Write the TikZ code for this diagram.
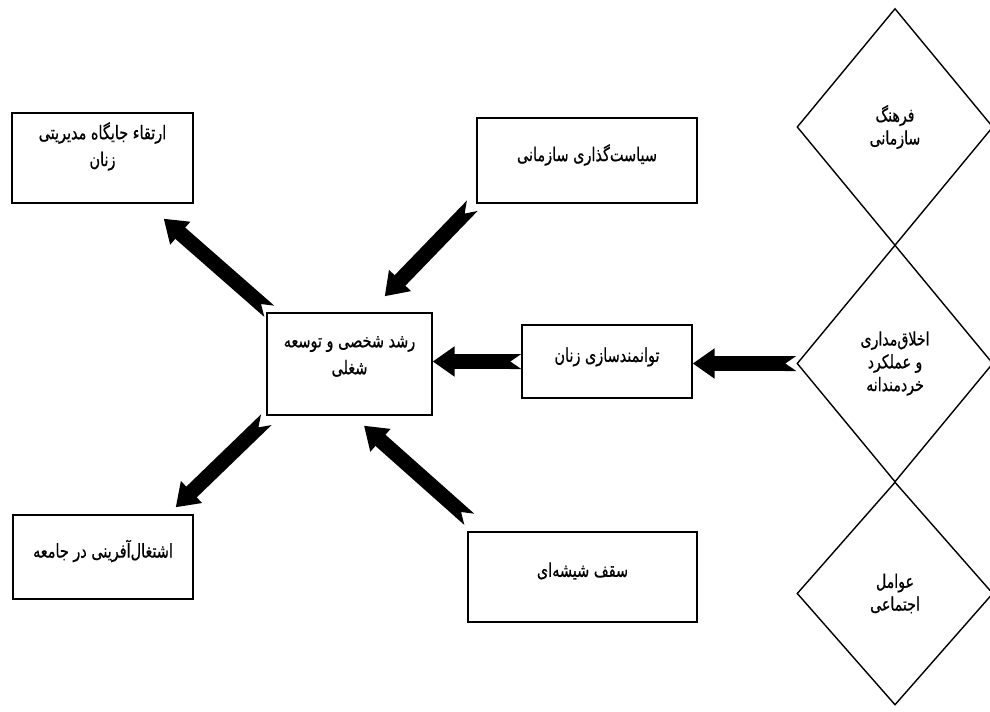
\documentclass[tikz,border=0pt]{standalone}
\usepackage{fontspec}
\newfontfamily\farsi[Script=Arabic,FakeStretch=0.76,FakeBold=0.6]{DejaVu Sans}
\TeXXeTstate=1
\usetikzlibrary{arrows.meta,positioning,shapes.geometric}
\newcommand{\fatext}[1]{\beginR #1\endR}
% V-shaped cut at the tail of the thick arrows
\pgfdeclarearrow{
	name = Notched Tail,
	parameters = {\the\pgfarrowlength},
	setup code = {
		\pgfarrowssettipend{\pgfarrowlength}
		\pgfarrowssetlineend{0pt}
		\pgfarrowssetbackend{0pt}
		\pgfarrowssavethe\pgfarrowlength
	},
	drawing code = {
		\pgfpathmoveto{\pgfqpoint{-0.3pt}{.5\pgflinewidth}}
		\pgfpathlineto{\pgfqpoint{\pgfarrowlength}{.5\pgflinewidth}}
		\pgfpathlineto{\pgfqpoint{0pt}{0pt}}
		\pgfpathlineto{\pgfqpoint{\pgfarrowlength}{-.5\pgflinewidth}}
		\pgfpathlineto{\pgfqpoint{-0.3pt}{-.5\pgflinewidth}}
		\pgfpathclose
		\pgfusepathqfill
	},
	defaults = {length = 2mm}
}
\tikzset{
	bigarrow/.style={line width=0.3cm, {Notched Tail[length=0.22cm]}-{Triangle[length=0.44cm,width=0.58cm]}},
	factor/.style={diamond, draw, line width=0.8pt, minimum width=3.92cm, align=center, font=\farsi\fontsize{10.6}{13}\selectfont}
}

\begin{document}
\begin{tikzpicture}[font=\farsi\fontsize{10.8}{15.3}\selectfont]
	\useasboundingbox (0,0) rectangle (19.8,14.22);
	
	\node (ertegha) at (2.05,11.06) [draw,thick,minimum width=3.62cm,minimum height=1.8cm] {};
	\node (siasat) at (11.74,11.01) [draw,thick,minimum width=4.4cm,minimum height=1.7cm] {};
	\node (roshd) at (6.99,6.94) [draw,thick,minimum width=3.3cm,minimum height=2.04cm] {};
	\node (tavan) at (12.14,6.99) [draw,thick,minimum width=3.4cm,minimum height=1.46cm] {};
	\node (eshteghal) at (2.06,3.08) [draw,thick,minimum width=3.6cm,minimum height=1.68cm] {};
	\node (saghf) at (11.65,2.68) [draw,thick,minimum width=4.58cm,minimum height=1.8cm] {};
	
	\node (t-ertegha) at (2.05,11.29) [align=center] {\fatext{ارتقاء جایگاه مدیریتی}\\\fatext{زنان}};
	\node (t-siasat) at (11.74,11.12) {\fatext{سیاست‌گذاری سازمانی}};
	\node (t-roshd) at (6.99,7.09) [align=center] {\fatext{رشد شخصی و توسعه}\\\fatext{شغلی}};
	\node (t-tavan) at (12.14,7.08) {\fatext{توانمندسازی زنان}};
	\node (t-eshteghal) at (2.06,3.20) {\fatext{اشتغال‌آفرینی در جامعه}};
	\node (t-saghf) at (11.65,2.80) {\fatext{سقف شیشه‌ای}};
	
	\node (farhang) at (17.9,11.68) [factor, minimum height=4.74cm] {\fatext{فرهنگ}\\\fatext{سازمانی}};
	\node (akhlagh) at (17.9,6.95) [factor, minimum height=4.74cm] {\fatext{اخلاق‌مداری}\\\fatext{و عملکرد}\\\fatext{خردمندانه}};
	\node (avamel) at (17.9,2.35) [factor, minimum height=4.46cm] {\fatext{عوامل}\\\fatext{اجتماعی}};
	
	\draw[bigarrow] ([shift={(0.06,0.02)}]roshd.north west) -- ([shift={(-0.6,-0.3)}]ertegha.south east);
	\draw[bigarrow] ([shift={(-0.08,-0.04)}]siasat.south west) -- ([shift={(-0.96,0.32)}]roshd.north east);
	\draw[bigarrow] ([shift={(0,-0.08)}]roshd.south west) -- ([shift={(-0.36,0.14)}]eshteghal.north east);
	\draw[bigarrow] ([shift={(0.04,0.24)}]saghf.north west) -- ([shift={(0.29,-0.2)}]roshd.south);
	\draw[bigarrow] (tavan.west) -- (tavan.west -| roshd.east);
	\draw[bigarrow] (akhlagh.west) -- (akhlagh.west -| tavan.east);
	
\end{tikzpicture}
\end{document}
